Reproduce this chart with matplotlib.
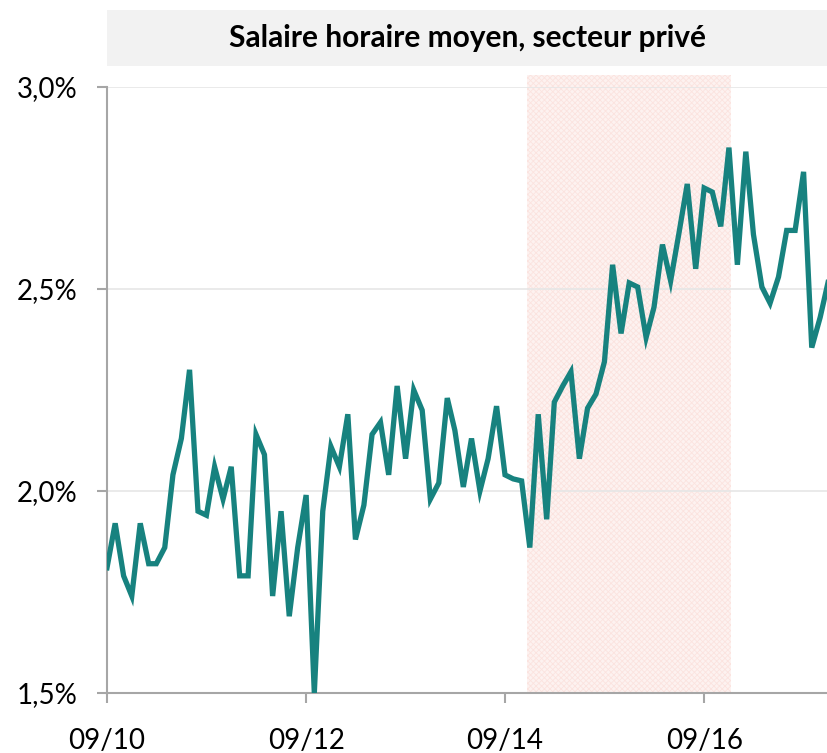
import matplotlib.pyplot as plt
import matplotlib.dates as mdates
from matplotlib.patches import Rectangle
import pandas as pd

plt.rcParams['font.family'] = ['Lato', 'DejaVu Sans']
plt.rcParams['hatch.linewidth'] = 0.6

# monthly values, 09/2010 -> 12/2017 (in %)
start_month = '2010-09-01'
values = [1.81, 1.92, 1.79, 1.74, 1.92, 1.82, 1.82, 1.86, 2.04, 2.13,
          2.30, 1.95, 1.94, 2.06, 1.98, 2.06, 1.79, 1.79, 2.14, 2.09,
          1.74, 1.95, 1.69, 1.86, 1.99, 1.50, 1.95, 2.11, 2.06, 2.19,
          1.88, 1.965, 2.14, 2.17, 2.04, 2.26, 2.08, 2.25, 2.20, 1.98,
          2.02, 2.23, 2.15, 2.01, 2.13, 2.00, 2.08, 2.21, 2.04, 2.03,
          2.025, 1.86, 2.19, 1.93, 2.22, 2.26, 2.295, 2.08, 2.205, 2.24,
          2.32, 2.56, 2.39, 2.515, 2.505, 2.38, 2.455, 2.61, 2.52, 2.64,
          2.76, 2.55, 2.75, 2.74, 2.655, 2.85, 2.56, 2.84, 2.635, 2.505,
          2.465, 2.53, 2.645, 2.645, 2.79, 2.355, 2.43, 2.52]
dates = pd.date_range(start_month, periods=len(values), freq='MS')

shade_start = pd.Timestamp('2014-11-20')
shade_end = pd.Timestamp('2016-12-08')
x_end = pd.Timestamp('2017-11-26')

yticks = [1.5, 2.0, 2.5, 3.0]
ytick_labels = ['1,5%', '2,0%', '2,5%', '3,0%']
xticks = pd.to_datetime(['2010-09-01', '2012-09-01', '2014-09-01', '2016-09-01'])
title = 'Salaire horaire moyen, secteur privé'

fig = plt.figure(figsize=(8.27, 7.53), dpi=100)
ax = fig.add_axes([107/827, 1 - 693/753, 1 - 107/827, (693 - 87)/753])

ax.axvspan(shade_start, shade_end, ymin=0, ymax=1.02, facecolor='#fdf2f0',
           edgecolor='#fbe3df', hatch='xxxxxx', linewidth=0, clip_on=False, zorder=0)
ax.plot(dates, values, color='#17827f', lw=3.8, solid_joinstyle='miter', zorder=3)

ax.set_ylim(1.5, 3.0)
ax.set_xlim(pd.Timestamp(start_month), x_end)
ax.set_yticks(yticks)
ax.set_yticklabels(ytick_labels)
ax.set_xticks(xticks)
ax.xaxis.set_major_formatter(mdates.DateFormatter('%m/%y'))
ax.grid(axis='y', color='#e6e6e6', lw=1.2, zorder=1)
ax.set_axisbelow(True)

for s in ['top', 'right']:
    ax.spines[s].set_visible(False)
for s in ['left', 'bottom']:
    ax.spines[s].set_color('#a6a6a6')
    ax.spines[s].set_linewidth(1.5)
ax.tick_params(axis='both', colors='#a6a6a6', width=1.5, length=7,
               labelcolor='black', labelsize=20)
ax.tick_params(axis='y', pad=14)
ax.tick_params(axis='x', pad=18)

# grey title band
fig.patches.append(Rectangle((107/827, 1 - 66/753), 1 - 107/827, 56/753,
                             transform=fig.transFigure, facecolor='#f2f2f2',
                             edgecolor='none', zorder=0))
fig.text((107 + 827)/2/827, 1 - 38/753, title, ha='center', va='center',
         fontsize=21.5, fontweight='bold')

fig.savefig('out.png', dpi=100)
